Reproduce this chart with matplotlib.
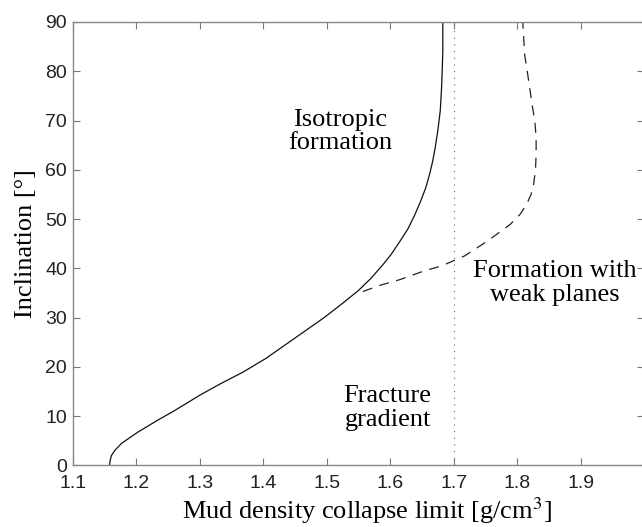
import matplotlib
matplotlib.use("Agg")
import matplotlib.pyplot as plt

# Isotropic formation collapse limit (solid curve)
iso_incl = [0, 1, 2, 3, 4.5, 6.8, 9.2, 11.1, 14.4, 16.6, 19.0, 21.7, 25.4, 27.2, 30.1,
            33.0, 35.5, 38.0, 40.8, 42.9, 45.6, 48.0, 50.9, 53.6, 56.3, 59.0, 61.7,
            64.5, 67.8, 72.0, 76.5, 80.0, 84.0, 90.0]
iso_dens = [1.158, 1.159, 1.161, 1.166, 1.177, 1.203, 1.234, 1.260, 1.302, 1.333, 1.369,
            1.404, 1.445, 1.465, 1.497, 1.526, 1.550, 1.570, 1.589, 1.602, 1.616, 1.628,
            1.639, 1.648, 1.656, 1.662, 1.667, 1.671, 1.675, 1.679, 1.681, 1.682, 1.683, 1.683]

# Formation with weak planes (dashed curve), branching off near 35 deg
weak_incl = [35.3, 36.6, 37.7, 39.5, 40.5, 42.5, 45.6, 48.9, 51.0, 53.0, 55.0, 57.0,
             60.0, 63.1, 66.5, 69.8, 73.0, 76.5, 80.0, 83.3, 90.0]
weak_dens = [1.557, 1.585, 1.615, 1.654, 1.681, 1.717, 1.754, 1.789, 1.805, 1.815, 1.822,
             1.826, 1.829, 1.830, 1.830, 1.828, 1.824, 1.820, 1.816, 1.812, 1.809]

FRACTURE_GRADIENT = 1.7

x_ticks = [1.1, 1.2, 1.3, 1.4, 1.5, 1.6, 1.7, 1.8, 1.9, 2.0]
x_labels = ["1.1", "1.2", "1.3", "1.4", "1.5", "1.6", "1.7", "1.8", "1.9", ""]
y_ticks = [0, 10, 20, 30, 40, 50, 60, 70, 80, 90]

plt.rcParams["mathtext.fontset"] = "stix"

fig = plt.figure(figsize=(6.42, 5.27), dpi=100)
ax = fig.add_axes([0.1132, 0.1167, 0.890, 0.8416])

ax.plot(iso_dens, iso_incl, color="#111111", linewidth=0.9)
ax.plot(weak_dens, weak_incl, color="#222222", linewidth=0.9, dashes=(8, 6))
ax.axvline(FRACTURE_GRADIENT, color="#666666", linewidth=0.8, linestyle=(0, (1, 5)))

ax.set_xlim(1.1, 2.0)
ax.set_ylim(0, 90)
ax.set_xticks(x_ticks)
ax.set_xticklabels(x_labels)
ax.set_yticks(y_ticks)

ax.tick_params(direction="in", top=True, right=True, length=5, width=0.8,
               color="#777777", labelsize=14)
ax.tick_params(axis="x", pad=7)
ax.tick_params(axis="y", pad=4)
for lbl in ax.get_xticklabels() + ax.get_yticklabels():
    lbl.set_family("Liberation Sans")
    lbl.set_color("#222222")
for sp in ax.spines.values():
    sp.set_color("#888888")
    sp.set_linewidth(1.0)

serif = "Liberation Serif"
ax.set_xlabel("Mud density collapse limit [g/cm$^3$]", family=serif, fontsize=19)
ax.set_ylabel("Inclination [°]", family=serif, fontsize=19)
ax.xaxis.set_label_coords(0.515, -0.067)
ax.yaxis.set_label_coords(-0.062, 0.5)

ax.text(1.522, 67.8, "Isotropic\nformation", family=serif, fontsize=19,
        ha="center", va="center", linespacing=1.1)
ax.text(1.596, 11.6, "Fracture\ngradient", family=serif, fontsize=19,
        ha="center", va="center", linespacing=1.1)
ax.text(1.859, 37.1, "Formation with\nweak planes", family=serif, fontsize=19,
        ha="center", va="center", linespacing=1.1)

fig.savefig("out.png", dpi=100)
